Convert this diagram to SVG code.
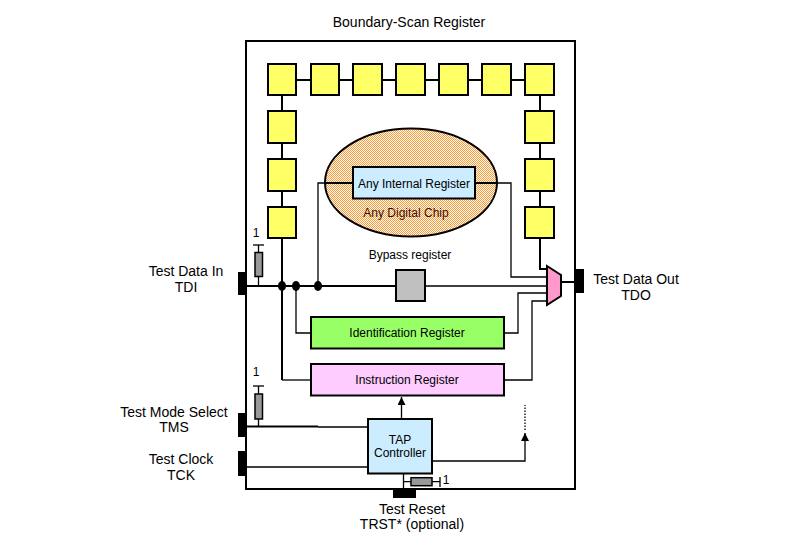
<svg xmlns="http://www.w3.org/2000/svg" width="800" height="554" viewBox="0 0 800 554">
<defs>
<pattern id="dots" patternUnits="userSpaceOnUse" width="2" height="2">
<rect width="2" height="2" fill="#FFFFFF"/>
<rect width="1" height="1" fill="#FF9933"/>
<rect x="1" y="1" width="1" height="1" fill="#FF9933"/>
</pattern>
<marker id="arr" viewBox="0 0 10 10" refX="10" refY="5" markerWidth="8" markerHeight="8" markerUnits="userSpaceOnUse" orient="auto">
<path d="M0,0 L10,5 L0,10 Z" fill="#000"/>
</marker>
</defs>
<style>
text{font-family:"Liberation Sans",Arial,sans-serif;fill:#000}
.lbl{font-size:14px;text-anchor:middle}
.in{font-size:12px;text-anchor:middle}
.yb{fill:#FFFF66;stroke:#000;stroke-width:2}
.box{stroke:#000;stroke-width:2}
.w{fill:none;stroke:#000;stroke-width:1.3}
.t{fill:none;stroke:#000;stroke-width:2}
.pin{fill:#000}
.res{fill:#999;stroke:#000;stroke-width:1.5}
</style>
<rect width="800" height="554" fill="#fff"/>
<text class="lbl" x="409" y="27">Boundary-Scan Register</text>
<rect id="chip-border" x="246" y="41" width="329" height="448" fill="none" stroke="#000" stroke-width="2"/>

<g id="connectors">
<path class="t" d="M296,80H311M339,80H353M382,80H396M425,80H439M468,80H482M511,80H525"/>
<path class="t" d="M282,95V111M282,143V159M282,191V207M282,238V380"/>
<path class="t" d="M540,95V111M540,143V159M540,191V207M540,238V269H547"/>
<path class="w" d="M282,380H311"/>
<path class="t" d="M246,286H396"/>
<path class="w" d="M425,286H547"/>
<path class="w" d="M296,286V333H311"/>
<path class="w" d="M318,286V183H353"/>
<path class="w" d="M475,183H511V277H547"/>
<path class="w" d="M504,333H518V293H547"/>
<path class="w" d="M504,380H532V301H547"/>
<path class="t" d="M561,282H575"/>
<path class="w" d="M258.5,245V286"/>
<path class="w" d="M253,245H264"/>
<path class="w" d="M258.5,386V427"/>
<path class="w" d="M253,386H264"/>
<path class="t" d="M246,426.5H318"/>
<path class="w" d="M318,427H368"/>
<path class="w" d="M246,467H368"/>
<path class="w" d="M401.5,419V397" marker-end="url(#arr)"/>
<path class="w" d="M432,461H525V433" marker-end="url(#arr)"/>
<path fill="none" stroke="#000" stroke-width="1.3" stroke-dasharray="1.5,1.5" d="M525,430V405"/>
<path class="w" d="M403.5,474V489"/>
<path class="w" d="M403.5,481.7H411M432,481.7H440M440,477V487"/>
<ellipse cx="282" cy="286" rx="4" ry="5" fill="#000"/>
<ellipse cx="296" cy="286" rx="4" ry="5" fill="#000"/>
<ellipse cx="318" cy="286" rx="4" ry="5" fill="#000"/>
</g>

<g id="bsr-cells">
<rect class="yb" x="268" y="64" width="28" height="31"/>
<rect class="yb" x="311" y="64" width="28" height="31"/>
<rect class="yb" x="353" y="64" width="29" height="31"/>
<rect class="yb" x="396" y="64" width="29" height="31"/>
<rect class="yb" x="439" y="64" width="29" height="31"/>
<rect class="yb" x="482" y="64" width="29" height="31"/>
<rect class="yb" x="525" y="64" width="29" height="31"/>
<rect class="yb" x="268" y="111" width="28" height="32"/>
<rect class="yb" x="268" y="159" width="28" height="32"/>
<rect class="yb" x="268" y="207" width="28" height="31"/>
<rect class="yb" x="525" y="111" width="29" height="32"/>
<rect class="yb" x="525" y="159" width="29" height="32"/>
<rect class="yb" x="525" y="207" width="29" height="31"/>
</g>

<g id="digital-chip">
<ellipse cx="411" cy="182.5" rx="86" ry="54" fill="url(#dots)" stroke="#000" stroke-width="2"/>
<text class="in" x="406" y="217" style="fill:#331100">Any Digital Chip</text>
</g>
<g id="internal-register">
<path class="t" d="M325,183H353M475,183H497"/>
<rect class="box" x="353" y="167" width="122" height="31.5" fill="#CCECFF"/>
<text class="in" x="414" y="187.5">Any Internal Register</text>
</g>
<g id="bypass-register">
<rect class="box" x="396" y="270" width="29" height="31" fill="#C0C0C0"/>
<text class="in" x="410" y="259">Bypass register</text>
</g>
<g id="identification-register">
<rect class="box" x="311" y="317" width="193" height="31.5" fill="#99FF66"/>
<text class="in" x="407" y="337">Identification Register</text>
</g>
<g id="instruction-register">
<rect class="box" x="311" y="364" width="193" height="31.5" fill="#FFCCFF"/>
<text class="in" x="407" y="384">Instruction Register</text>
</g>
<g id="mux">
<polygon points="547,266 561,275 561,296 547,305" fill="#FF99CC" stroke="#000" stroke-width="2"/>
</g>
<g id="tap-controller">
<rect class="box" x="368" y="419" width="64" height="54.5" fill="#CCECFF"/>
<text class="in" x="400" y="444">TAP</text>
<text class="in" x="400" y="457">Controller</text>
</g>

<g id="tdi">
<rect class="pin" x="238" y="272" width="8" height="23"/>
<rect class="res" x="255" y="252.5" width="7.5" height="24"/>
<text class="in" x="256" y="237">1</text>
<text class="lbl" x="186" y="276">Test Data In</text>
<text class="lbl" x="186" y="292">TDI</text>
</g>
<g id="tms">
<rect class="pin" x="238" y="413" width="8" height="24"/>
<rect class="res" x="255" y="394" width="7.5" height="25"/>
<text class="in" x="256" y="376">1</text>
<text class="lbl" x="174" y="417">Test Mode Select</text>
<text class="lbl" x="174" y="432">TMS</text>
</g>
<g id="tck">
<rect class="pin" x="238" y="451" width="8" height="25"/>
<text class="lbl" x="181" y="464">Test Clock</text>
<text class="lbl" x="181" y="480">TCK</text>
</g>
<g id="tdo">
<rect class="pin" x="575" y="269" width="9" height="24"/>
<text class="lbl" x="636" y="284">Test Data Out</text>
<text class="lbl" x="636" y="300">TDO</text>
</g>
<g id="trst">
<rect class="pin" x="393" y="489" width="23" height="9"/>
<rect class="res" x="411" y="477.7" width="21" height="8"/>
<text class="in" x="446" y="484">1</text>
<text class="lbl" x="412" y="514">Test Reset</text>
<text class="lbl" x="412" y="529">TRST* (optional)</text>
</g>
</svg>
